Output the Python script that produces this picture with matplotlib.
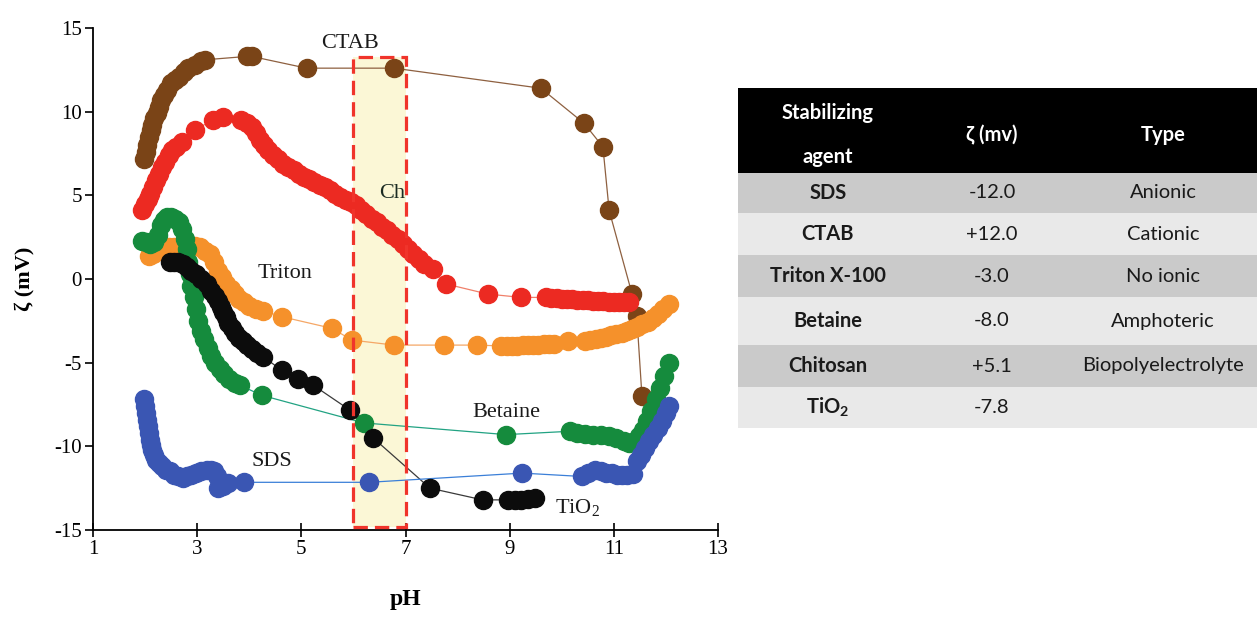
import matplotlib.pyplot as plt
from matplotlib.patches import Rectangle

plt.rcParams['font.family'] = ['Liberation Serif', 'DejaVu Serif']
plt.rcParams['mathtext.fontset'] = 'custom'
plt.rcParams['mathtext.rm'] = 'Liberation Serif'
plt.rcParams['axes.unicode_minus'] = False

# CTAB (brown)
ctab_ph = [1.98, 2.01, 2.04, 2.08, 2.11, 2.14, 2.18, 2.22, 2.26, 2.31, 2.36, 2.42, 2.50, 2.58,
           2.66, 2.74, 2.82, 2.95, 3.08, 3.15, 3.95, 4.05, 5.10, 6.78, 9.60, 10.43, 10.79,
           10.91, 11.35, 11.44, 11.54]
ctab_z = [7.2, 7.6, 8.0, 8.5, 8.9, 9.2, 9.6, 9.9, 10.3, 10.7, 11.0, 11.3, 11.7, 11.9,
          12.1, 12.4, 12.6, 12.8, 13.0, 13.1, 13.3, 13.3, 12.6, 12.6, 11.4, 9.3, 7.9,
          4.1, -0.9, -2.2, -7.0]

# Chitosan (red)
chi_ph = [1.95, 2.00, 2.05, 2.10, 2.15, 2.20, 2.26, 2.32, 2.38, 2.45, 2.52, 2.60, 2.70, 2.95,
          3.30, 3.50, 3.85, 3.95, 4.05, 4.12, 4.20, 4.28, 4.36, 4.45, 4.55, 4.65, 4.75, 4.85,
          4.95, 5.05, 5.15, 5.25, 5.35, 5.45, 5.55, 5.65, 5.75, 5.85, 5.95, 6.05, 6.15, 6.25,
          6.35, 6.45, 6.55, 6.65, 6.75, 6.85, 6.95, 7.05, 7.15, 7.25, 7.35, 7.52, 7.78, 8.58,
          9.22, 9.70, 9.80, 9.90, 10.00, 10.10, 10.20, 10.30, 10.40, 10.50, 10.60, 10.70,
          10.80, 10.90, 11.00, 11.10, 11.20, 11.30]
chi_z = [4.1, 4.5, 4.8, 5.1, 5.5, 5.9, 6.3, 6.7, 7.0, 7.4, 7.7, 7.9, 8.2, 8.9,
         9.5, 9.7, 9.5, 9.3, 9.1, 8.7, 8.3, 8.0, 7.7, 7.4, 7.2, 6.9, 6.7, 6.5,
         6.3, 6.1, 6.0, 5.8, 5.6, 5.5, 5.3, 5.1, 4.9, 4.7, 4.6, 4.4, 4.1, 3.9,
         3.6, 3.4, 3.1, 2.9, 2.6, 2.4, 2.1, 1.8, 1.5, 1.2, 0.9, 0.6, -0.3, -0.9,
         -1.1, -1.1, -1.15, -1.15, -1.2, -1.2, -1.2, -1.25, -1.25, -1.25, -1.3, -1.3,
         -1.3, -1.35, -1.35, -1.35, -1.4, -1.4]

# Triton X-100 (orange)
tri_ph = [2.08, 2.15, 2.25, 2.35, 2.45, 2.55, 2.65, 2.75, 2.85, 2.95, 3.05, 3.15, 3.24, 3.32,
          3.40, 3.48, 3.56, 3.64, 3.72, 3.80, 3.90, 4.00, 4.12, 4.27, 4.62, 5.59, 5.97, 6.78,
          7.74, 8.37, 8.84, 8.95, 9.05, 9.15, 9.25, 9.35, 9.45, 9.55, 9.65, 9.75, 9.85, 10.12,
          10.45, 10.55, 10.65, 10.75, 10.85, 10.95, 11.05, 11.15, 11.25, 11.35, 11.45, 11.55,
          11.65, 11.75, 11.85, 11.95, 12.05]
tri_z = [1.4, 1.5, 1.7, 1.8, 1.9, 1.9, 1.9, 1.9, 1.9, 2.0, 1.9, 1.7, 1.5, 1.0,
         0.5, 0.1, -0.3, -0.6, -0.9, -1.2, -1.4, -1.6, -1.8, -1.9, -2.25, -2.95, -3.65, -3.95,
         -3.95, -3.95, -4.0, -4.0, -4.0, -4.0, -3.95, -3.95, -3.95, -3.95, -3.9, -3.9, -3.9, -3.7,
         -3.7, -3.65, -3.6, -3.5, -3.45, -3.35, -3.3, -3.2, -3.1, -3.0, -2.85, -2.7,
         -2.55, -2.35, -2.1, -1.8, -1.5]

# Betaine (green)
bet_ph = [1.95, 2.02, 2.10, 2.18, 2.24, 2.30, 2.36, 2.43, 2.50, 2.58, 2.65, 2.71, 2.76, 2.80,
          2.83, 2.86, 2.89, 2.93, 2.97, 3.02, 3.08, 3.14, 3.20, 3.27, 3.35, 3.43, 3.52, 3.62,
          3.72, 3.82, 4.24, 6.20, 8.93, 10.16, 10.30, 10.45, 10.60, 10.75, 10.90, 11.05, 11.20,
          11.30, 11.40, 11.48, 11.56, 11.64, 11.72, 11.80, 11.88, 11.96, 12.05]
bet_z = [2.3, 2.2, 2.1, 2.2, 2.6, 3.2, 3.5, 3.7, 3.7, 3.6, 3.4, 3.0, 2.4, 1.8,
         1.0, 0.3, -0.4, -1.1, -1.8, -2.5, -3.1, -3.6, -4.1, -4.6, -5.0, -5.4, -5.7, -6.0,
         -6.2, -6.35, -6.95, -8.6, -9.3, -9.1, -9.2, -9.25, -9.3, -9.35, -9.4, -9.5, -9.7,
         -9.8, -9.7, -9.4, -9.0, -8.5, -7.9, -7.2, -6.5, -5.8, -5.0]

# TiO2 (black)
tio_ph = [2.47, 2.55, 2.63, 2.72, 2.80, 2.88, 2.98, 3.08, 3.18, 3.27, 3.35, 3.40, 3.45, 3.50,
          3.55, 3.60, 3.66, 3.72, 3.80, 3.88, 3.96, 4.05, 4.15, 4.27, 4.62, 4.94, 5.23, 5.94,
          6.38, 7.47, 8.48, 8.97, 9.10, 9.22, 9.35, 9.48]
tio_z = [1.0, 1.0, 1.0, 0.9, 0.7, 0.5, 0.3, 0.0, -0.3, -0.7, -1.0, -1.3, -1.7, -2.0,
         -2.3, -2.6, -2.9, -3.2, -3.5, -3.7, -3.95, -4.2, -4.4, -4.65, -5.45, -5.95, -6.35, -7.85,
         -9.5, -12.5, -13.2, -13.2, -13.2, -13.2, -13.15, -13.1]

# SDS (blue)
sds_ph = [1.98, 2.00, 2.02, 2.04, 2.06, 2.08, 2.10, 2.12, 2.14, 2.17, 2.21, 2.26, 2.32, 2.40,
          2.48, 2.56, 2.64, 2.72, 2.80, 2.88, 2.98, 3.08, 3.18, 3.26, 3.33, 3.38, 3.40, 3.50,
          3.60, 3.90, 6.30, 9.24, 10.38, 10.50, 10.64, 10.75, 10.85, 10.96, 11.06, 11.16, 11.26,
          11.36, 11.45, 11.52, 11.60, 11.68, 11.76, 11.84, 11.92, 12.00, 12.06]
sds_z = [-7.2, -7.6, -8.0, -8.4, -8.8, -9.2, -9.6, -9.9, -10.2, -10.5, -10.8, -11.0, -11.2, -11.4,
         -11.5, -11.7, -11.8, -11.9, -11.8, -11.7, -11.6, -11.5, -11.4, -11.4, -11.5, -11.8, -12.5, -12.4,
         -12.2, -12.15, -12.15, -11.6, -11.8, -11.6, -11.4, -11.5, -11.6, -11.6, -11.7, -11.7, -11.7,
         -11.65, -10.9, -10.5, -10.1, -9.7, -9.3, -8.9, -8.5, -8.0, -7.6]

# table
table_header = ["Stabilizing\nagent", "ζ (mv)", "Type"]
table_agents = ["SDS", "CTAB", "Triton X-100", "Betaine", "Chitosan", r"TiO$_\mathregular{2}$"]
table_zeta = ["-12.0", "+12.0", "-3.0", "-8.0", "+5.1", "-7.8"]
table_type = ["Anionic", "Cationic", "No ionic", "Amphoteric", "Biopolyelectrolyte", ""]

fig = plt.figure(figsize=(12.57, 6.19), dpi=100)
ax = fig.add_axes([93 / 1257, 89 / 619, 625 / 1257, 502 / 619])

# highlighted region
ax.add_patch(Rectangle((6, -14.8), 1, 28.05, facecolor='#FBF7D6', edgecolor='none', zorder=0))
ax.add_patch(Rectangle((6, -14.8), 1, 28.05, facecolor='none', edgecolor='#F0342B',
                       ls=(0, (4.5, 2.2)), lw=2.3, zorder=5))

series = [
    (ctab_ph, ctab_z, '#7A4417', '#8E6040'),
    (chi_ph, chi_z, '#EC2A22', '#F0806A'),
    (tri_ph, tri_z, '#F5912B', '#F5A766'),
    (bet_ph, bet_z, '#158B3D', '#22A383'),
    (tio_ph, tio_z, '#0C0C0C', '#3A3A3A'),
    (sds_ph, sds_z, '#3A56B3', '#3A7FD8'),
]
for x, y, mc, lc in series:
    ax.plot(x, y, color=lc, lw=0.9, zorder=2)
    ax.plot(x, y, ls='none', marker='o', ms=13, color=mc, mec=mc, zorder=3)

lab = dict(fontsize=16, color='#1A1A1A', ha='center', va='center', zorder=6)
ax.text(5.94, 14.1, "CTAB", **lab)
ax.text(6.75, 5.1, "Ch", fontsize=16, color='#1B2B22', ha='center', va='center', zorder=6)
ax.text(4.69, 0.3, "Triton", **lab)
ax.text(8.93, -8.0, "Betaine", **lab)
ax.text(4.44, -10.9, "SDS", **lab)
ax.text(10.3, -13.7, r"TiO$_\mathregular{2}$", **lab)

ax.set_xlim(1, 13)
ax.set_ylim(-15, 15)
ax.set_xticks([1, 3, 5, 7, 9, 11, 13])
ax.set_yticks([-15, -10, -5, 0, 5, 10, 15])
for s in ['top', 'right']:
    ax.spines[s].set_visible(False)
for s in ['left', 'bottom']:
    ax.spines[s].set_linewidth(1.3)
ax.tick_params(axis='x', direction='inout', length=10, width=1.2, labelsize=15, pad=2)
ax.tick_params(axis='y', direction='out', length=6, width=1.2, labelsize=15, pad=2)
ax.set_xlabel("pH", fontsize=17, fontweight='bold', labelpad=22)
ax.set_ylabel("ζ (mV)", fontsize=16, fontweight='bold', labelpad=14)

# table on the right
tax = fig.add_axes([738 / 1257, 191 / 619, 519 / 1257, 340 / 619])
tax.set_xlim(0, 519)
tax.set_ylim(340, 0)
tax.axis('off')
edges = [0, 85, 125, 167, 209, 257, 299, 340]
col_x = [90, 254, 425]
tfont = ['Lato', 'DejaVu Sans']
fs = 14.5
tax.add_patch(Rectangle((0, 0), 519, edges[1], facecolor='black', edgecolor='none'))
for i in range(len(table_agents)):
    top, bot = edges[i + 1], edges[i + 2]
    fc = '#CACACA' if i % 2 == 0 else '#E9E9E9'
    tax.add_patch(Rectangle((0, top), 519, bot - top, facecolor=fc, edgecolor='none'))
    yc = (top + bot) / 2
    tax.text(col_x[0], yc, table_agents[i], family=tfont, fontsize=fs, fontweight='bold',
             color='#1A1A1A', ha='center', va='center')
    tax.text(col_x[1], yc, table_zeta[i], family=tfont, fontsize=fs,
             color='#1A1A1A', ha='center', va='center')
    tax.text(col_x[2], yc, table_type[i], family=tfont, fontsize=fs,
             color='#1A1A1A', ha='center', va='center')
tax.text(col_x[0], 25, table_header[0].split("\n")[0], family=tfont, fontsize=fs,
         fontweight='bold', color='white', ha='center', va='center')
tax.text(col_x[0], 69, table_header[0].split("\n")[1], family=tfont, fontsize=fs,
         fontweight='bold', color='white', ha='center', va='center')
tax.text(col_x[1], 47, table_header[1], family=tfont, fontsize=fs, fontweight='bold',
         color='white', ha='center', va='center')
tax.text(col_x[2], 47, table_header[2], family=tfont, fontsize=fs, fontweight='bold',
         color='white', ha='center', va='center')

fig.savefig("out.png", dpi=100)
